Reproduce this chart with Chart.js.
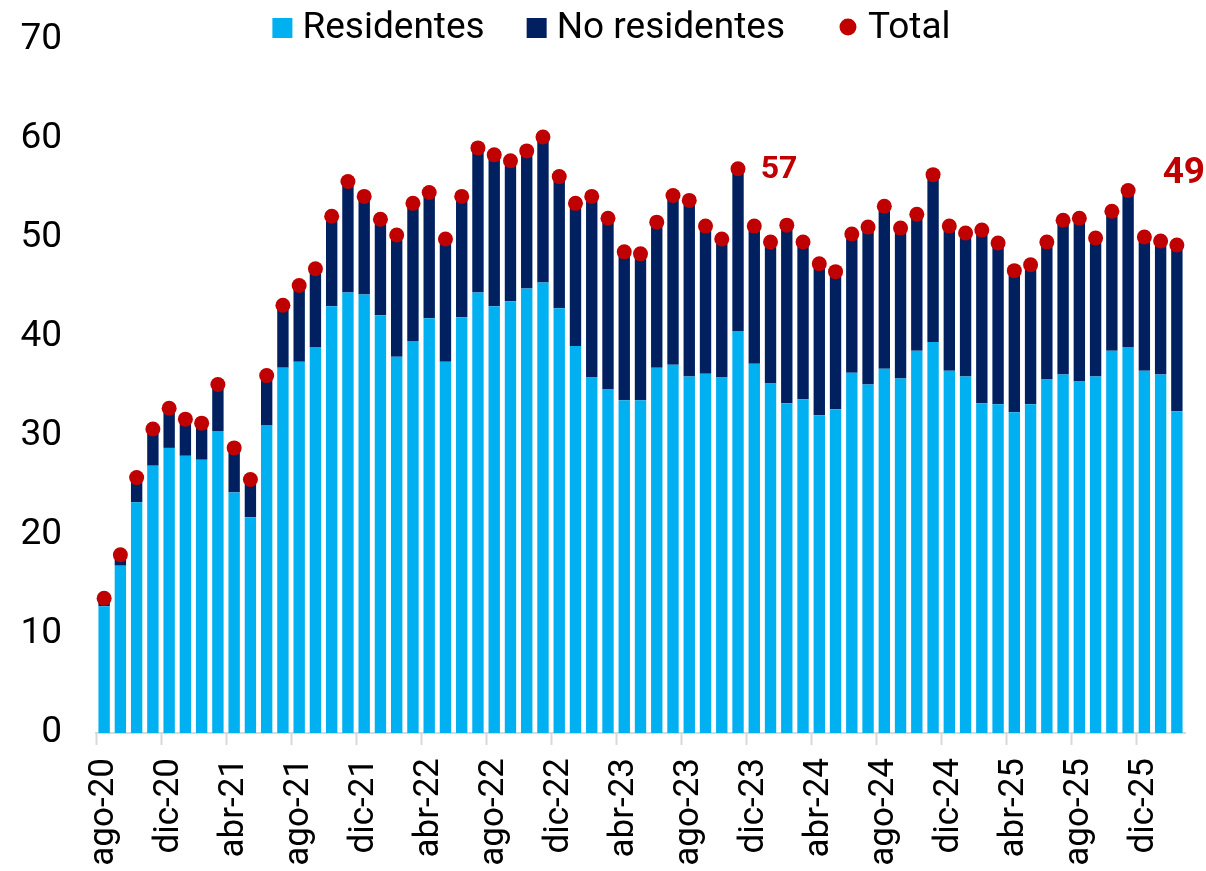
<!DOCTYPE html>
<html>
<head>
<meta charset="utf-8">
<script src="https://cdn.jsdelivr.net/npm/chart.js@4"></script>
<style>
  body { margin: 0; background: #fff; }
  #wrap { width: 1206px; height: 871px; }
</style>
</head>
<body>
<div id="wrap"><canvas id="canvasChart"></canvas></div>
<script>
var meses = ["ago-20","sep-20","oct-20","nov-20","dic-20","ene-21","feb-21","mar-21","abr-21","may-21","jun-21","jul-21",
  "ago-21","sep-21","oct-21","nov-21","dic-21","ene-22","feb-22","mar-22","abr-22","may-22","jun-22","jul-22",
  "ago-22","sep-22","oct-22","nov-22","dic-22","ene-23","feb-23","mar-23","abr-23","may-23","jun-23","jul-23",
  "ago-23","sep-23","oct-23","nov-23","dic-23","ene-24","feb-24","mar-24","abr-24","may-24","jun-24","jul-24",
  "ago-24","sep-24","oct-24","nov-24","dic-24","ene-25","feb-25","mar-25","abr-25","may-25","jun-25","jul-25",
  "ago-25","sep-25","oct-25","nov-25","dic-25","ene-26","feb-26"];

var residentes = [12.8,16.9,23.3,27.0,28.8,28.0,27.6,30.5,24.3,21.8,31.1,36.9,
  37.5,39.0,43.1,44.5,44.3,42.2,38.0,39.6,41.9,37.5,42.0,44.5,
  43.1,43.6,44.9,45.5,42.9,39.1,35.9,34.7,33.6,33.6,36.9,37.2,
  36.0,36.3,35.9,40.6,37.3,35.3,33.3,33.7,32.1,32.7,36.4,35.2,
  36.8,35.8,38.6,39.5,36.6,36.0,33.3,33.2,32.4,33.2,35.7,36.2,
  35.5,36.0,38.6,39.0,36.6,36.2,32.5];

var noResidentes = [0.8,1.1,2.5,3.7,4.0,3.7,3.7,4.7,4.5,3.8,5.0,6.3,
  7.7,7.9,9.1,11.2,9.9,9.7,12.3,13.9,12.7,12.4,12.2,14.6,
  15.3,14.2,13.9,14.7,13.3,14.4,18.3,17.3,15.0,14.8,14.7,17.1,
  17.8,14.9,14.0,16.4,13.9,14.3,18.0,15.9,15.3,13.9,14.0,15.9,
  16.4,15.2,13.8,16.9,14.6,14.5,17.5,16.3,14.3,14.1,13.9,15.6,
  16.5,14.0,14.1,15.8,13.5,13.5,16.8];

var total = [13.6,18.0,25.8,30.7,32.8,31.7,31.3,35.2,28.8,25.6,36.1,43.2,
  45.2,46.9,52.2,55.7,54.2,51.9,50.3,53.5,54.6,49.9,54.2,59.1,
  58.4,57.8,58.8,60.2,56.2,53.5,54.2,52.0,48.6,48.4,51.6,54.3,
  53.8,51.2,49.9,57.0,51.2,49.6,51.3,49.6,47.4,46.6,50.4,51.1,
  53.2,51.0,52.4,56.4,51.2,50.5,50.8,49.5,46.7,47.3,49.6,51.8,
  52.0,50.0,52.7,54.8,50.1,49.7,49.3];

// meses con etiqueta del total
var etiquetas = [39, 66];

var fuente = "Roboto";

// etiquetas rojas del total
var totalLabels = {
  id: "totalLabels",
  afterDatasetsDraw: function(chart) {
    var ctx = chart.ctx;
    var xs = chart.scales.x;
    var ys = chart.scales.y;
    var desp = [[41, 1, 32], [7, -71, 37]];
    ctx.save();
    ctx.fillStyle = "#C00000";
    ctx.textAlign = "center";
    ctx.textBaseline = "middle";
    etiquetas.forEach(function(i, k) {
      ctx.font = "bold " + desp[k][2] + "px " + fuente;
      var x = xs.getPixelForValue(i) + desp[k][0];
      var y = ys.getPixelForValue(total[i]) + desp[k][1];
      ctx.fillText(Math.round(total[i]).toString(), x, y);
    });
    ctx.restore();
  }
};

// leyenda arriba, dibujada a mano
var leyenda = {
  id: "leyenda",
  afterDraw: function(chart) {
    var ctx = chart.ctx;
    var ds = chart.data.datasets;
    var gaps = [42, 54, 0];
    var base = 38;
    ctx.save();
    ctx.font = "37px " + fuente;
    ctx.textBaseline = "alphabetic";
    ctx.textAlign = "left";
    var w = 0;
    ds.forEach(function(d, i) { w += 20 + 10 + ctx.measureText(d.label).width + gaps[i]; });
    var x = 612 - w / 2;
    ds.forEach(function(d, i) {
      ctx.fillStyle = d.backgroundColor;
      if (d.type === "line") {
        ctx.beginPath();
        ctx.arc(x + 9, base - 11, 8.5, 0, Math.PI * 2);
        ctx.fill();
        x += 18 + 11;
      } else {
        ctx.fillRect(x, base - 20, 20, 20);
        x += 20 + 10;
      }
      ctx.fillStyle = "#000";
      ctx.fillText(d.label, x, base);
      x += ctx.measureText(d.label).width + gaps[i];
    });
    ctx.restore();
  }
};

var chart = new Chart(document.getElementById("canvasChart"), {
  type: "bar",
  data: {
    labels: meses,
    datasets: [{
      label: "Residentes",
      data: residentes,
      backgroundColor: "#00B0F0",
      stack: "s",
      order: 2
    }, {
      label: "No residentes",
      data: noResidentes,
      backgroundColor: "#002060",
      stack: "s",
      order: 2
    }, {
      type: "line",
      label: "Total",
      data: total,
      showLine: false,
      pointRadius: 7.5,
      pointHoverRadius: 7.5,
      pointBackgroundColor: "#C00000",
      pointBorderWidth: 0,
      backgroundColor: "#C00000",
      borderColor: "#C00000",
      order: 0
    }]
  },
  options: {
    responsive: true,
    maintainAspectRatio: false,
    animation: false,
    layout: { padding: { left: 0, right: 21, top: 40, bottom: 0 } },
    datasets: {
      bar: { barPercentage: 0.7, categoryPercentage: 1.0 }
    },
    plugins: {
      legend: { display: false },
      tooltip: { enabled: false }
    },
    scales: {
      x: {
        stacked: true,
        offset: true,
        border: { display: true, color: "#D9D9D9", width: 2 },
        grid: {
          offset: true,
          drawOnChartArea: false,
          drawTicks: true,
          tickLength: 12,
          tickWidth: 2,
          tickColor: function(c) {
            return (c.index !== undefined && c.index % 4 === 0) ? "#D9D9D9" : "rgba(0,0,0,0)";
          }
        },
        ticks: {
          autoSkip: false,
          maxRotation: 90,
          minRotation: 90,
          color: "#000",
          padding: 13,
          font: { family: fuente, size: 35 },
          callback: function(v, i) { return i % 4 === 0 ? meses[i] : ""; }
        },
        afterFit: function(axis) {
          axis.height = 138;
          axis.paddingLeft = 0;
          axis.paddingRight = 0;
        }
      },
      y: {
        stacked: true,
        min: 0,
        max: 70,
        border: { display: false },
        grid: { display: false },
        ticks: {
          stepSize: 10,
          color: "#000",
          padding: 26,
          font: { family: fuente, size: 37 }
        },
        afterFit: function(axis) {
          axis.width = 96;
          axis.paddingTop = 0;
          axis.paddingBottom = 0;
        }
      }
    }
  },
  plugins: [totalLabels, leyenda]
});
</script>
</body>
</html>
